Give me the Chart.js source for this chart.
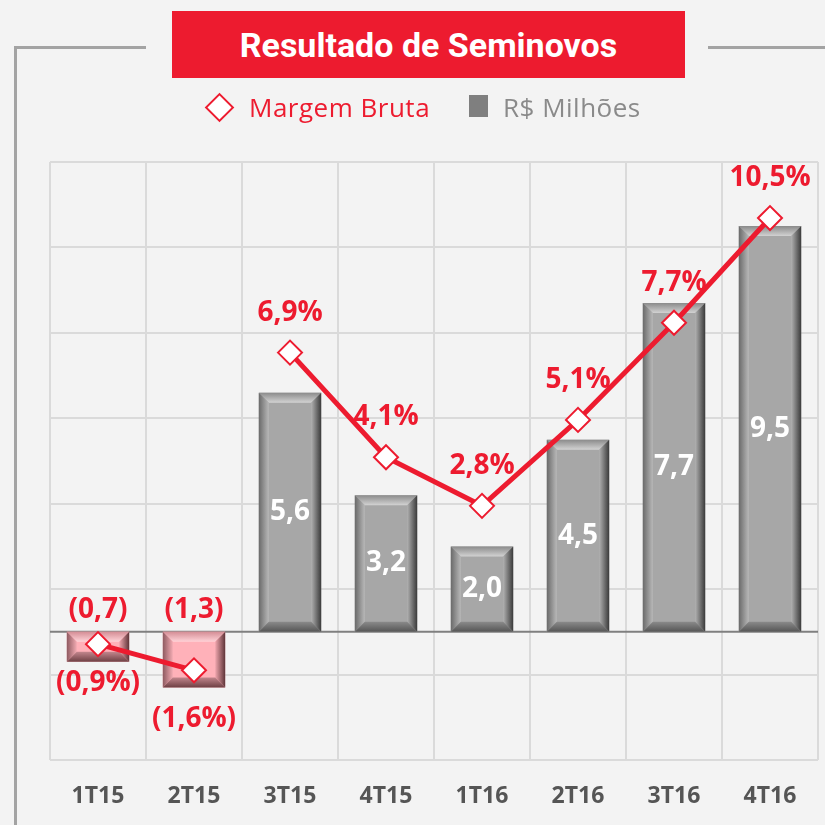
<!DOCTYPE html>
<html><head><meta charset="utf-8">
<script src="https://cdn.jsdelivr.net/npm/chart.js@4/dist/chart.umd.min.js"></script>
<style>
html,body{margin:0;padding:0;background:#f3f3f3;}
#wrap{position:relative;width:825px;height:825px;overflow:hidden;background:#f3f3f3;}
#c{position:absolute;left:0;top:0;}
.fl{position:absolute;background:#a3a3a3;}
#title{position:absolute;left:172px;top:11px;width:513px;height:67px;background:#ed1b2f;color:#fff;font:bold 34px "Liberation Sans Narrow",Roboto,sans-serif;display:flex;align-items:center;justify-content:center;}
.lg{position:absolute;font:26px "Open Sans",sans-serif;white-space:nowrap;line-height:30px;letter-spacing:0.5px;}
#dia{position:absolute;left:209px;top:97px;width:17px;height:17px;background:#fff;border:2px solid #ed1b2f;transform:rotate(45deg);}
#sq{position:absolute;left:469px;top:95px;width:19px;height:22px;background:#7f7f7f;}
</style></head>
<body><div id="wrap">
<canvas id="c" width="825" height="825"></canvas>
<div class="fl" style="left:14px;top:46px;width:132px;height:3px"></div>
<div class="fl" style="left:14px;top:46px;width:3px;height:800px"></div>
<div class="fl" style="left:708px;top:46px;width:120px;height:3px"></div>
<div id="title">Resultado de Seminovos</div>
<div id="dia"></div>
<div class="lg" style="left:249px;top:92px;color:#ed1b2f">Margem Bruta</div>
<div id="sq"></div>
<div class="lg" style="left:503px;top:92px;color:#8a8a8a">R$ Milhões</div>
</div>
<script>
const categories = ['1T15','2T15','3T15','4T15','1T16','2T16','3T16','4T16'];
const receitaMilhoes = [-0.7,-1.3,5.6,3.2,2.0,4.5,7.7,9.5];
const margemBruta = [-0.9,-1.6,6.9,4.1,2.8,5.1,7.7,10.5];
const barAxisMin = -3, barAxisMax = 11, barAxisStep = 2;
const lineAxisMin = -4, lineAxisMax = 12;

const RED = '#ed1b2f';
const fmt = v => Math.abs(v).toFixed(1).replace('.', ',');

function poly(ctx, pts, fill){
  ctx.beginPath(); ctx.moveTo(pts[0][0],pts[0][1]);
  for(let k=1;k<pts.length;k++) ctx.lineTo(pts[k][0],pts[k][1]);
  ctx.closePath(); ctx.fillStyle=fill; ctx.fill();
}

const bevelPlugin = {
  id:'bevel',
  afterDatasetDraw(chart,args){
    if(args.index!==1) return;
    const ctx=chart.ctx;
    args.meta.data.forEach((el,i)=>{
      const p=el.getProps(['x','y','base','width'],true);
      const L=p.x-p.width/2,R=p.x+p.width/2,T=Math.min(p.y,p.base),B=Math.max(p.y,p.base);
      const neg=receitaMilhoes[i]<0;
      const b=Math.min(10,(B-T)/3);
      const c = neg ? {t0:'#d58e96',t1:'#ffd3d8',l0:'#8e5a60',l1:'#f2aab2',r0:'#f0a6ae',r1:'#5e3438',b0:'#c2868d',b1:'#6e4044'}
                    : {t0:'#8a8a8a',t1:'#d2d2d2',l0:'#6a6a6a',l1:'#b8b8b8',r0:'#b0b0b0',r1:'#3a3a3a',b0:'#8a8a8a',b1:'#555555'};
      ctx.save();
      let g=ctx.createLinearGradient(0,T,0,T+b); g.addColorStop(0,c.t0); g.addColorStop(1,c.t1);
      poly(ctx,[[L,T],[R,T],[R-b,T+b],[L+b,T+b]],g);
      g=ctx.createLinearGradient(L,0,L+b,0); g.addColorStop(0,c.l0); g.addColorStop(1,c.l1);
      poly(ctx,[[L,T],[L+b,T+b],[L+b,B-b],[L,B]],g);
      g=ctx.createLinearGradient(R-b,0,R,0); g.addColorStop(0,c.r0); g.addColorStop(1,c.r1);
      poly(ctx,[[R,T],[R,B],[R-b,B-b],[R-b,T+b]],g);
      g=ctx.createLinearGradient(0,B-b,0,B); g.addColorStop(0,c.b0); g.addColorStop(1,c.b1);
      poly(ctx,[[L,B],[R,B],[R-b,B-b],[L+b,B-b]],g);
      ctx.restore();
    });
  }
};

const zeroLinePlugin = {
  id:'zeroLine',
  beforeDatasetsDraw(chart){
    const ctx=chart.ctx, a=chart.chartArea, y0=chart.scales.y.getPixelForValue(0);
    ctx.save(); ctx.strokeStyle='#7f7f7f'; ctx.lineWidth=2;
    ctx.beginPath(); ctx.moveTo(a.left,y0); ctx.lineTo(a.right,y0); ctx.stroke(); ctx.restore();
  }
};

const labelPlugin = {
  id:'labels',
  afterDatasetsDraw(chart){
    const ctx=chart.ctx; ctx.save();
    ctx.textAlign='center'; ctx.textBaseline='middle';
    const y0=chart.scales.y.getPixelForValue(0);
    chart.getDatasetMeta(1).data.forEach((el,i)=>{
      const v=receitaMilhoes[i];
      if(v>=0){
        ctx.fillStyle='#ffffff'; ctx.font='bold 28px "Open Sans"';
        ctx.fillText(fmt(v),el.x,(el.y+el.base)/2);
      } else {
        ctx.fillStyle=RED; ctx.font='bold 28px "Open Sans"';
        ctx.fillText('('+fmt(v)+')',el.x,y0-22);
      }
    });
    chart.getDatasetMeta(0).data.forEach((el,i)=>{
      const v=margemBruta[i];
      ctx.fillStyle=RED; ctx.font='bold 28px "Open Sans"';
      if(v>=0) ctx.fillText(fmt(v)+'%',el.x,el.y-40);
      else ctx.fillText('('+fmt(v)+'%)',el.x,el.y+(i===1?49:39));
    });
    ctx.restore();
  }
};

new Chart(document.getElementById('c'),{
  data:{
    labels:categories,
    datasets:[
      {type:'line',label:'Margem Bruta',data:margemBruta,yAxisID:'y2',order:1,
       borderColor:RED,borderWidth:5,pointStyle:'rectRot',pointRadius:12,
       pointBackgroundColor:'#ffffff',pointBorderColor:RED,pointBorderWidth:2,tension:0,clip:false,
       segment:{borderColor:s=>s.p0DataIndex===1?'rgba(0,0,0,0)':RED}},
      {type:'bar',label:'R$ Milhões',data:receitaMilhoes,yAxisID:'y',order:2,
       backgroundColor:receitaMilhoes.map(v=>v<0?'#ffb1b9':'#a7a7a7'),borderWidth:0,
       barPercentage:0.65,categoryPercentage:1}
    ]
  },
  options:{
    responsive:false,animation:false,devicePixelRatio:1,
    layout:{autoPadding:false,padding:{left:50,right:7,top:162,bottom:0}},
    plugins:{legend:{display:false},tooltip:{enabled:false},title:{display:false}},
    scales:{
      x:{grid:{color:'#dadada',lineWidth:2,drawTicks:false,offset:true},border:{display:false},
         ticks:{color:'#555555',font:{family:'Open Sans',weight:'bold',size:23},padding:23},
         afterFit(s){s.height=65;s.paddingLeft=0;s.paddingRight=0;}},
      y:{min:barAxisMin,max:barAxisMax,ticks:{stepSize:barAxisStep,display:false},
         grid:{color:'#dadada',lineWidth:2,drawTicks:false},border:{display:false},
         afterFit(s){s.width=0;}},
      y2:{display:false,min:lineAxisMin,max:lineAxisMax}
    }
  },
  plugins:[zeroLinePlugin,bevelPlugin,labelPlugin]
});
</script></body></html>
